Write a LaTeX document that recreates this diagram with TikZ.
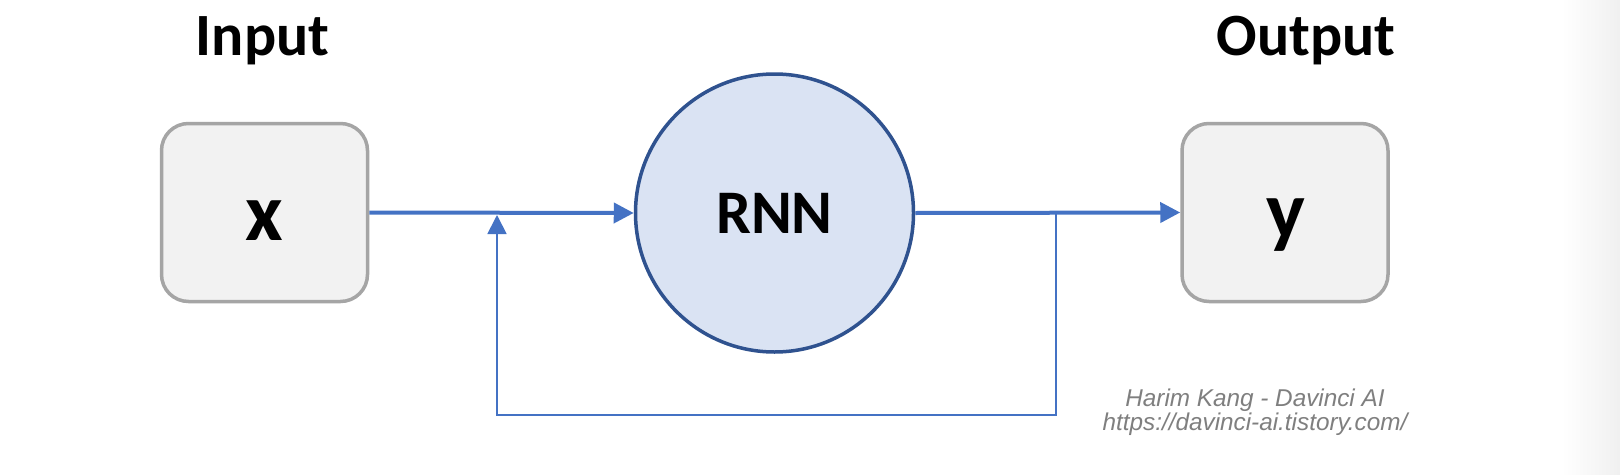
\documentclass[tikz,border=0pt]{standalone}
\usepackage{fontspec}
\setmainfont{Carlito}
\newfontfamily\wmfont{Liberation Sans}
\usetikzlibrary{arrows.meta}
\definecolor{lineblue}{HTML}{4472C4}
\definecolor{circfill}{HTML}{DAE3F3}
\definecolor{circdraw}{HTML}{2F528F}
\definecolor{boxfill}{HTML}{F2F2F2}
\definecolor{boxdraw}{HTML}{A5A5A5}
\definecolor{wmgray}{HTML}{7F7F7F}
\tikzset{
  iobox/.style={draw=boxdraw, fill=boxfill, line width=3.5pt, rounded corners=27pt,
    minimum width=206pt, minimum height=178pt, inner sep=0pt},
  rnncirc/.style={circle, draw=circdraw, fill=circfill, line width=3.5pt,
    minimum size=278pt, inner sep=0pt},
  mainarrow/.style={draw=lineblue, line width=4pt, -{Triangle[length=20pt,width=20pt]}},
  fbarrow/.style={draw=lineblue, line width=1.8pt, -{Triangle[length=19pt,width=19pt]}},
  title/.style={font=\bfseries\fontsize{60}{64}\selectfont, anchor=base, inner sep=0pt},
  bigletter/.style={font=\bfseries\fontsize{82}{86}\selectfont, anchor=base, inner sep=0pt},
  rnnlabel/.style={font=\bfseries\fontsize{62}{66}\selectfont, anchor=base, inner sep=0pt},
  watermark/.style={font=\wmfont\itshape\fontsize{24.3}{26}\selectfont, text=wmgray, anchor=base, inner sep=0pt}
}
\begin{document}
\begin{tikzpicture}[x=1pt, y=-1pt]
\useasboundingbox (0,0) rectangle (1620,474);
\fill[white] (0,0) rectangle (1620,474);
\shade[left color=white, right color=black!6] (1562,0) rectangle (1620,474);

\node[iobox] (xbox) at (264.5,212.5) {};
\node[iobox] (ybox) at (1285,212.5) {};
\node[rnncirc] (rnn) at (774.5,213) {};

\node[bigletter] (xlab) at (264,240) {x};
\node[bigletter] (ylab) at (1286,238) {y};
\node[rnnlabel] (rnnlab) at (774.5,233) {RNN};

\node[title] (inlab) at (262.5,55) {Input};
\node[title] (outlab) at (1306,55) {Output};

\node[watermark] (wm1) at (1255,406) {Harim Kang - Davinci AI};
\node[watermark] (wm2) at (1255,430) {https://davinci-ai.tistory.com/};

\draw[mainarrow] (xbox.east) -- (rnn.west);
\draw[mainarrow] (rnn.east) -- (ybox.west);

\coordinate (fbstart) at (1056,213);
\coordinate (fbtip) at (497,215);
\coordinate (fbbottom) at (1056,415);
\draw[fbarrow] (fbstart) -- (fbbottom) -| (fbtip);
\end{tikzpicture}
\end{document}
